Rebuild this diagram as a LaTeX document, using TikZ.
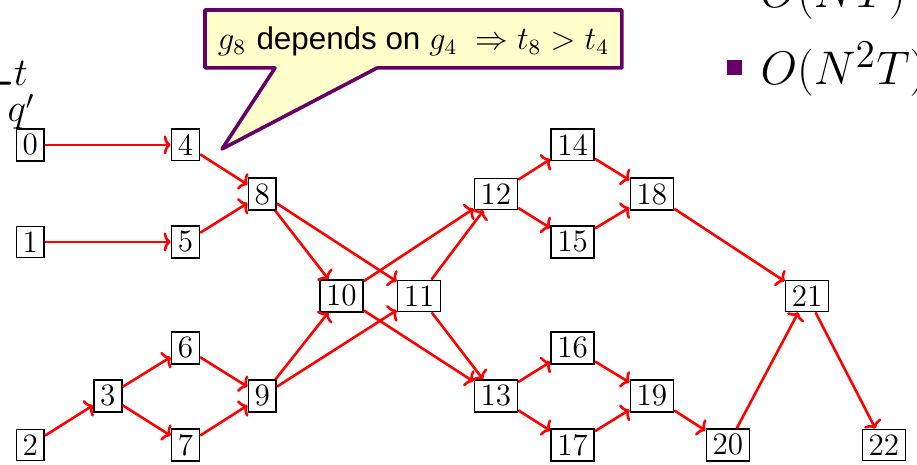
\documentclass[tikz,border=0pt]{standalone}
\usepackage{amsmath}
\usepackage{amssymb}
\usepackage{fontspec}
\setsansfont{Liberation Sans}
\usepackage{xcolor}
\usetikzlibrary{arrows.meta}
\definecolor{notepurple}{RGB}{102,0,102}
\definecolor{noteyellow}{RGB}{255,255,204}
\tikzset{
    gate/.style={draw=black, line width=0.6pt, fill=white, inner xsep=2.3pt, inner ysep=1.9pt, font=\fontsize{11.4}{12}\selectfont},
    dep/.style={-{To[length=2.6pt,width=7pt]}, red, line width=0.95pt}
}

\begin{document}
\begin{tikzpicture}
    \useasboundingbox (0,0) rectangle (11.817,5.992);

    \node [gate] (n0) at (0.39,4.124) {0};
    \node [gate] (n1) at (0.39,2.874) {1};
    \node [gate] (n2) at (0.39,0.258) {2};
    \node [gate] (n3) at (1.39,0.889) {3};
    \node [gate] (n4) at (2.39,4.124) {4};
    \node [gate] (n5) at (2.39,2.874) {5};
    \node [gate] (n6) at (2.39,1.508) {6};
    \node [gate] (n7) at (2.39,0.258) {7};
    \node [gate] (n8) at (3.38,3.492) {8};
    \node [gate] (n9) at (3.38,0.889) {9};
    \node [gate] (n10) at (4.40,2.178) {10};
    \node [gate] (n11) at (5.40,2.178) {11};
    \node [gate] (n12) at (6.39,3.492) {12};
    \node [gate] (n13) at (6.39,0.889) {13};
    \node [gate] (n14) at (7.38,4.124) {14};
    \node [gate] (n15) at (7.38,2.874) {15};
    \node [gate] (n16) at (7.38,1.508) {16};
    \node [gate] (n17) at (7.38,0.258) {17};
    \node [gate] (n18) at (8.40,3.492) {18};
    \node [gate] (n19) at (8.40,0.889) {19};
    \node [gate] (n20) at (9.38,0.258) {20};
    \node [gate] (n21) at (10.40,2.178) {21};
    \node [gate] (n22) at (11.39,0.258) {22};

    \draw [dep] (n0)--(n4);
    \draw [dep] (n1)--(n5);
    \draw [dep] (n4)--(n8);
    \draw [dep] (n5)--(n8);
    \draw [dep] (n2)--(n3);
    \draw [dep] (n3)--(n6);
    \draw [dep] (n3)--(n7);
    \draw [dep] (n6)--(n9);
    \draw [dep] (n7)--(n9);
    \draw [dep] (n8)--(n10);
    \draw [dep] (n8)--(n11);
    \draw [dep] (n9)--(n10);
    \draw [dep] (n9)--(n11);
    \draw [dep] (n10)--(n12);
    \draw [dep] (n11)--(n12);
    \draw [dep] (n10)--(n13);
    \draw [dep] (n11)--(n13);
    \draw [dep] (n12)--(n14);
    \draw [dep] (n12)--(n15);
    \draw [dep] (n14)--(n18);
    \draw [dep] (n15)--(n18);
    \draw [dep] (n13)--(n16);
    \draw [dep] (n13)--(n17);
    \draw [dep] (n16)--(n19);
    \draw [dep] (n17)--(n19);
    \draw [dep] (n19)--(n20);
    \draw [dep] (n18)--(n21);
    \draw [dep] (n20)--(n21);
    \draw [dep] (n21)--(n22);

    % callout
    \draw [notepurple, fill=noteyellow, line width=1.3pt, line join=round]
        (2.642,5.863)--(8.015,5.863)--(8.015,5.116)--(4.858,5.116)
        --(2.861,4.072)--(3.544,5.116)--(2.642,5.116)--cycle;
    \node [anchor=base, font=\fontsize{11.5}{13}\selectfont] (note) at (5.33,5.348)
        {$g_8$ \sffamily depends on $g_4\ \Rightarrow t_8 > t_4$};

    \node [anchor=base west, inner sep=0pt, font=\fontsize{20}{22}\selectfont] (var) at (-0.22,4.62) {$\tau^t_{q'}$};
    \node [anchor=base west, inner sep=0pt, font=\fontsize{19}{21}\selectfont] (cost1) at (9.794,5.90) {$O(NT)$};
    \fill [notepurple] (9.369,5.026) rectangle (9.562,5.219);
    \node [anchor=base west, inner sep=0pt, font=\fontsize{19}{21}\selectfont] (cost2) at (9.794,4.897) {$O(N^2T)$};
\end{tikzpicture}
\end{document}
